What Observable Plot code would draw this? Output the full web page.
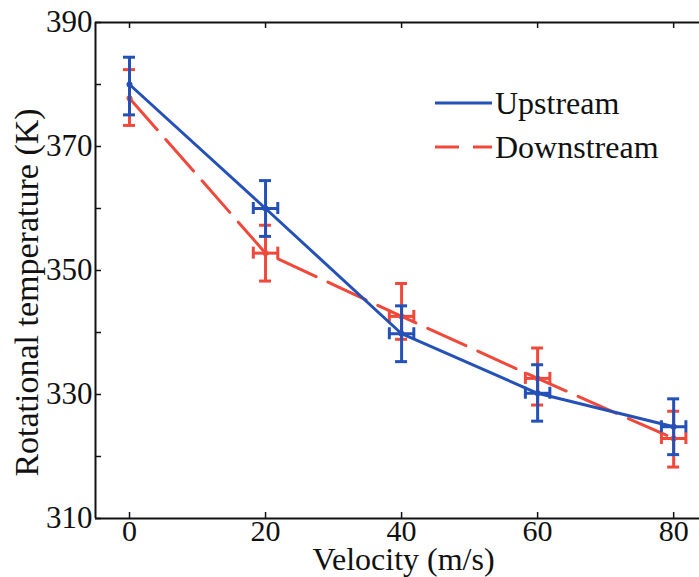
<!DOCTYPE html>
<html>
<head>
<meta charset="utf-8">
<script src="https://cdn.jsdelivr.net/npm/d3@7"></script>
<script src="https://cdn.jsdelivr.net/npm/@observablehq/plot@0.6"></script>
<style>
  body { margin: 0; background: #fff; }
  #wrap { position: relative; width: 699px; height: 577px; font-family: "Liberation Serif", "Times New Roman", serif; }
  #legend { position: absolute; left: 435px; top: 81px; }
  .row { display: flex; align-items: center; height: 44px; font-size: 32px; color: #111; }
  .row svg { margin-right: 3px; }
</style>
</head>
<body>
<div id="wrap"></div>
<script>
// ---- data ----
const velocity = [0, 20, 40, 60, 80];
const velErr = [0, 1.8, 1.8, 1.8, 1.8];

const upstreamT  = [380.0, 360.0, 339.8, 330.2, 324.8];
const upstreamLo = [375.1, 355.5, 335.3, 325.7, 320.3];
const upstreamHi = [384.4, 364.5, 344.3, 334.8, 329.3];

const downstreamT  = [377.8, 352.8, 342.6, 332.6, 322.9];
const downstreamLo = [373.4, 348.3, 338.9, 328.3, 318.3];
const downstreamHi = [382.4, 357.3, 347.9, 337.5, 327.3];

const seriesNames = ["Upstream", "Downstream"];
const xTicks = [0, 20, 40, 60, 80];
const yTicks = [310, 330, 350, 370, 390];
const yMinorTicks = [310, 320, 330, 340, 350, 360, 370, 380, 390];
const xLabel = "Velocity (m/s)";
const yLabel = "Rotational temperature (K)";

const blue = "#2451b7";
const red = "#f0483a";

function rows(T, Lo, Hi) {
  return velocity.map((v, i) => ({v, t: T[i], lo: Lo[i], hi: Hi[i], xe: velErr[i]}));
}
const up = rows(upstreamT, upstreamLo, upstreamHi);
const down = rows(downstreamT, downstreamLo, downstreamHi);

function seriesMarks(data, color, dash) {
  const xd = data.filter(d => d.xe > 0);
  const sw = 3;
  return [
    Plot.line(data, {x: "v", y: "t", stroke: color, strokeWidth: sw, strokeDasharray: dash}),
    Plot.ruleX(data, {x: "v", y1: "lo", y2: "hi", stroke: color, strokeWidth: sw}),
    Plot.ruleY(data, {y: "lo", x1: "v", x2: "v", insetLeft: -6, insetRight: -6, stroke: color, strokeWidth: sw}),
    Plot.ruleY(data, {y: "hi", x1: "v", x2: "v", insetLeft: -6, insetRight: -6, stroke: color, strokeWidth: sw}),
    Plot.ruleY(xd, {y: "t", x1: d => d.v - d.xe, x2: d => d.v + d.xe, stroke: color, strokeWidth: sw}),
    Plot.ruleX(xd, {x: d => d.v - d.xe, y1: "t", y2: "t", insetTop: -6, insetBottom: -6, stroke: color, strokeWidth: sw}),
    Plot.ruleX(xd, {x: d => d.v + d.xe, y1: "t", y2: "t", insetTop: -6, insetBottom: -6, stroke: color, strokeWidth: sw}),
    Plot.dot(data, {x: "v", y: "t", r: 3, fill: color})
  ];
}

const chart = Plot.plot({
  width: 699,
  height: 577,
  marginLeft: 95,
  marginRight: 0,
  marginTop: 22,
  marginBottom: 59,
  style: {fontFamily: "'Liberation Serif', 'Times New Roman', serif", color: "#111", background: "#fff", overflow: "visible"},
  x: {domain: [-5, 83.8]},
  y: {domain: [310, 390]},
  marks: [
    ...seriesMarks(down, red, "42,13"),
    ...seriesMarks(up, blue, null),
    // frame lines
    Plot.ruleX([-5], {stroke: "#111", strokeWidth: 2}),
    Plot.ruleY([310], {stroke: "#111", strokeWidth: 2}),
    Plot.ruleY([390], {stroke: "#111", strokeWidth: 2}),
    // inward ticks
    Plot.ruleX(xTicks, {x: d => d, y1: 310, y2: 310, insetTop: -6, stroke: "#111", strokeWidth: 1.5}),
    Plot.ruleX(xTicks, {x: d => d, y1: 390, y2: 390, insetBottom: -6, stroke: "#111", strokeWidth: 1.5}),
    Plot.ruleY(yMinorTicks, {y: d => d, x1: -5, x2: -5, insetRight: -6, stroke: "#111", strokeWidth: 1.5}),
    // tick labels
    Plot.axisX(xTicks, {tickSize: 0, tickPadding: 1, fontSize: 30, label: null}),
    Plot.axisY(yTicks, {tickSize: 0, tickPadding: 3, fontSize: 31, label: null}),
    // axis titles
    Plot.text([xLabel], {frameAnchor: "bottom", dy: 51, dx: 6, fontSize: 32, fill: "#111"}),
    Plot.text([yLabel], {frameAnchor: "left", textAnchor: "middle", rotate: -90, dx: -68, dy: 22, fontSize: 34, fill: "#111"})
  ]
});

const wrap = document.getElementById("wrap");
wrap.appendChild(chart);

// legend
const legend = document.createElement("div");
legend.id = "legend";
const swatches = [
  {name: seriesNames[0], color: blue, dash: null},
  {name: seriesNames[1], color: red, dash: "24,14"}
];
for (const s of swatches) {
  const row = document.createElement("div");
  row.className = "row";
  row.innerHTML = `<svg width="57" height="6"><line x1="0" y1="3" x2="57" y2="3" stroke="${s.color}" stroke-width="3" ${s.dash ? `stroke-dasharray="${s.dash}"` : ""}/></svg><span></span>`;
  row.querySelector("span").textContent = s.name;
  legend.appendChild(row);
}
wrap.appendChild(legend);
</script>
</body>
</html>
